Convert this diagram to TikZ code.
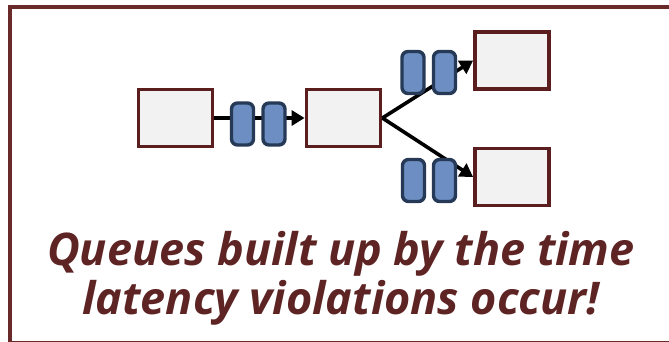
\documentclass[tikz,border=0pt]{standalone}
\usepackage{fontspec}
\setmainfont{Open Sans}
\usetikzlibrary{arrows.meta}
\definecolor{frame}{HTML}{6B2A2A}
\definecolor{txt}{HTML}{5E2424}
\definecolor{boxb}{HTML}{5A1E1E}
\definecolor{boxf}{HTML}{F2F2F2}
\definecolor{qf}{HTML}{6C8EC2}
\definecolor{qb}{HTML}{263A58}
\tikzset{
  box/.style={draw=boxb, fill=boxf, line width=3.8pt, minimum width=74pt, minimum height=57pt, inner sep=0pt},
  qitem/.style={draw=qb, fill=qf, line width=3.4pt, rounded corners=6pt, minimum width=22pt, minimum height=42pt, inner sep=0pt},
  conn/.style={line width=3.6pt, -{Triangle[length=13pt,width=15pt]}}
}
\begin{document}
\begin{tikzpicture}[x=1pt,y=-1pt]
\useasboundingbox (0,0) rectangle (669,341);
\draw[frame, line width=4pt] (10,7) rectangle (680,342.5);
\node[box] (a) at (175.5,118) {};
\node[box] (b) at (343.5,118) {};
\node[box] (c) at (512,60.5) {};
\node[box] (d) at (512,177) {};
\draw[conn] (a) -- (b);
\draw[conn] (b.east) -- (c.west);
\draw[conn] (b.east) -- (d.west);
\node[qitem] (q1) at (242.5,124) {};
\node[qitem] (q2) at (274,124) {};
\node[qitem] (q3) at (413,72.5) {};
\node[qitem] (q4) at (444.5,72.5) {};
\node[qitem] (q5) at (413.5,180.5) {};
\node[qitem] (q6) at (444.5,180.5) {};
\node[txt, font=\fontsize{45}{49}\selectfont\bfseries\itshape, align=center, inner sep=0pt] (t) at (341,278.5) {Queues built up by the time\\latency violations occur!};
\end{tikzpicture}
\end{document}
